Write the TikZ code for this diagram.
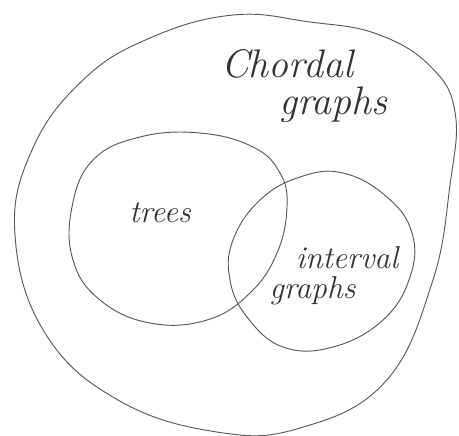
\documentclass[tikz,border=0pt]{standalone}
\usepackage{tikz}
\usetikzlibrary{positioning}

\tikzset{
  setline/.style={draw=black!65, line width=0.8pt},
  biglabel/.style={font=\itshape\fontsize{34}{36}\selectfont, text=black!80},
  setlabel/.style={font=\itshape\fontsize{27}{29}\selectfont, text=black!80}
}

\begin{document}
\begin{tikzpicture}[x=0.03cm, y=-0.03cm]
  \useasboundingbox (0,0) rectangle (459,435);
  % chordal graphs
  \draw[setline] plot[smooth cycle, tension=0.7] coordinates {
    (233,15) (310,22) (377,34) (430,66) (455,112) (450,185)
    (432,283) (385,382) (300,428) (217,432) (118,400) (45,333)
    (15,235) (32,150) (83,80) (150,38)};
  % trees
  \draw[setline] plot[smooth cycle, tension=0.7] coordinates {
    (200,133) (253,147) (280,173) (287,207) (277,253) (250,293)
    (207,320) (150,323) (100,300) (73,260) (72,207) (93,160) (140,137)};
  % interval graphs
  \draw[setline] plot[smooth cycle, tension=0.7] coordinates {
    (260,200) (300,177) (343,173) (387,197) (412,233) (410,277)
    (383,320) (333,347) (283,347) (247,317) (230,280) (233,240)};

  \node[biglabel] (chordal) at (287,64) {Chordal};
  \node[biglabel, below right=0pt and -70pt of chordal] (chordalg) {graphs};
  \node[setlabel] (trees) at (160,213) {trees};
  \node[setlabel] (interval) at (347,258) {interval};
  \node[setlabel, below left=-1pt and -58pt of interval] (intervalg) {graphs};
\end{tikzpicture}
\end{document}
